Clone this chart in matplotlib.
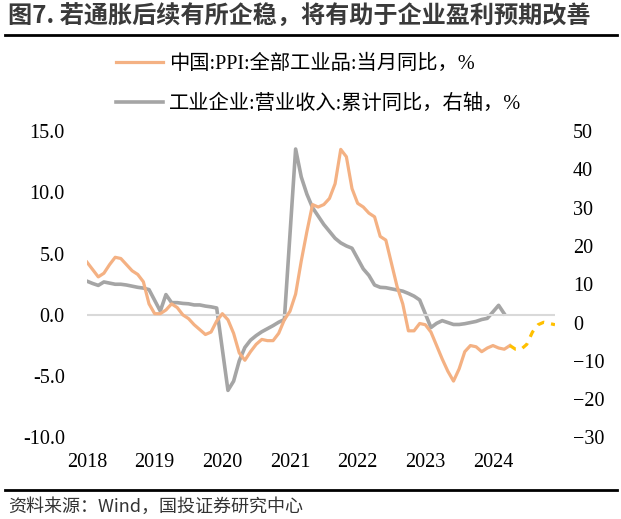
import numpy as np
import matplotlib.pyplot as plt
from matplotlib.lines import Line2D

plt.rcParams['font.family'] = ['Liberation Serif', 'Noto Sans CJK SC']

years = ['2018', '2019', '2020', '2021', '2022', '2023', '2024']

# China PPI yoy, monthly 2018-01 .. 2024-04 (left axis)
ppi = [4.3, 3.7, 3.1, 3.4, 4.1, 4.7, 4.6, 4.1, 3.6, 3.3, 2.7, 0.9,
       0.1, 0.1, 0.4, 0.9, 0.6, 0.0, -0.3, -0.8, -1.2, -1.6, -1.4, -0.5,
       0.1, -0.4, -1.5, -3.1, -3.7, -3.0, -2.4, -2.0, -2.1, -2.1, -1.5, -0.4,
       0.3, 1.7, 4.4, 6.8, 9.0, 8.8, 9.0, 9.5, 10.7, 13.5, 12.9, 10.3,
       9.1, 8.8, 8.3, 8.0, 6.4, 6.1, 4.2, 2.3, 0.9, -1.3, -1.3, -0.7,
       -0.8, -1.4, -2.5, -3.6, -4.6, -5.4, -4.4, -3.0, -2.5, -2.6, -3.0, -2.7,
       -2.5, -2.7, -2.8, -2.5]

# PPI outlook 2024-04 .. 2024-12 (dashed)
ppi_fcst = [-2.5, -2.8, -2.8, -2.4, -1.4, -0.8, -0.6, -0.7, -0.8]

# industrial revenue, cumulative yoy (right axis); January usually not released
nan = np.nan
revenue = [10.8, 10.2, 9.7, 10.6, 10.3, 10.0, 10.0, 9.8, 9.5, 9.2, 9.0, 8.6,
           nan, 3.0, 7.3, 5.2, 5.2, 5.0, 4.9, 4.6, 4.6, 4.3, 4.1, 3.8,
           nan, -17.7, -15.3, -10.0, -6.5, -4.6, -3.4, -2.4, -1.6, -0.8, 0.1, 0.8,
           nan, 45.3, 38.0, 33.5, 30.0, 27.8, 25.6, 23.8, 22.0, 20.8, 20.0, 19.4,
           nan, 14.0, 12.3, 9.8, 9.2, 9.1, 8.8, 8.5, 8.2, 7.6, 6.9, 5.9,
           nan, -1.3, -0.2, 0.5, 0.0, -0.5, -0.5, -0.3, 0.0, 0.3, 0.8, 1.1,
           nan, 4.5, 2.3]

ppi_label = '中国:PPI:全部工业品:当月同比，%'
rev_label = '工业企业:营业收入:累计同比，右轴，%'

fig = plt.figure(figsize=(6.21, 5.19), dpi=100)
ax = fig.add_axes([87 / 621, 1 - 437.5 / 519, (555 - 87) / 621, (437.5 - 131) / 519])
ax2 = ax.twinx()

x_ppi = np.arange(len(ppi))
x_fc = np.arange(len(ppi) - 1, len(ppi) - 1 + len(ppi_fcst))
rev = np.array(revenue)
x_rev = np.arange(len(rev))
ok = ~np.isnan(rev)

ax.axhline(0, color='#D9D9D9', lw=1.5, zorder=1)
l1, = ax.plot(x_ppi, ppi, color='#F4B183', lw=2.3, zorder=3, solid_joinstyle='round')
ax.plot(x_fc, ppi_fcst, color='#FFC000', lw=2.3, ls=(0, (2.2, 2.2)), zorder=3)
l2, = ax2.plot(x_rev[ok], rev[ok], color='#A5A5A5', lw=2.6, zorder=2, solid_joinstyle='round')

ax.set_zorder(ax2.get_zorder() + 1)
ax.patch.set_visible(False)

ax.set_xlim(0, 83)
ax.set_ylim(-10, 15)
ax2.set_ylim(-30, 50)
ax.set_yticks(np.arange(-10, 16, 5))
ax.set_yticklabels([f'{v:.1f}' for v in np.arange(-10, 16, 5)])
ax2.set_yticks(np.arange(-30, 51, 10))
ax.set_xticks(np.arange(0, 84, 12))
ax.set_xticklabels(years)

for a in (ax, ax2):
    for s in a.spines.values():
        s.set_visible(False)
ax.tick_params(axis='both', length=0, labelsize=14.5)
ax.tick_params(axis='y', pad=16)
ax.tick_params(axis='x', pad=11)
ax2.tick_params(axis='y', length=0, labelsize=14.5, pad=13)

fig.legend([l1, l2], [ppi_label, rev_label], loc='upper left',
           bbox_to_anchor=(108 / 621, 1 - 47 / 519), frameon=False,
           fontsize=14.6, handlelength=2.3, handletextpad=0.3, labelspacing=1.0,
           borderaxespad=0)

fig.text(8 / 621, 1 - 17 / 519, '图7. 若通胀后续有所企稳，将有助于企业盈利预期改善',
         family=['Noto Sans CJK SC'], fontweight='bold', fontsize=17.4,
         color='#3a3a3a', va='center', ha='left')
fig.add_artist(Line2D([5 / 621, 617 / 621], [1 - 35 / 519, 1 - 35 / 519],
                      color='black', lw=2))
fig.add_artist(Line2D([5 / 621, 617 / 621], [1 - 490 / 519, 1 - 490 / 519],
                      color='black', lw=2))
fig.text(8 / 621, 1 - 507 / 519, '资料来源：Wind，国投证券研究中心',
         family=['Noto Sans CJK SC'], fontsize=13, style='italic',
         color='#333333', va='center', ha='left')

fig.savefig('out.png', dpi=100)
